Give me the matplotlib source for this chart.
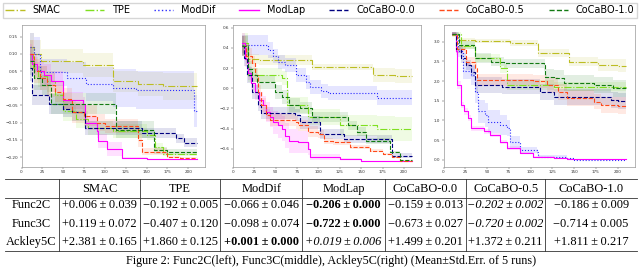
import numpy as np
import matplotlib
matplotlib.use("Agg")
import matplotlib.pyplot as plt
from matplotlib.lines import Line2D

W, H = 640, 268

# ---------------- data ----------------
methods = ["SMAC", "TPE", "ModDif", "ModLap", "CoCaBO-0.0", "CoCaBO-0.5", "CoCaBO-1.0"]
colors = ["#bcbd22", "#7fdf1f", "#2b2bff", "#ff00ff", "#000080", "#ff4a1a", "#127a12"]
styles = ["-.", "-.", ":", "-", "--", "--", "--"]
x_end = 210

# each step series: (iteration, mean, std.err)
f2_smac = [(10, 0.12, 0.04), (15, 0.10, 0.04), (23, 0.079, 0.035), (74, 0.068, 0.035), (110, 0.02, 0.03), (140, 0.012, 0.035), (170, 0.006, 0.039)]
f2_tpe = [(10, 0.10, 0.04), (14, 0.06, 0.03), (20, 0.035, 0.03), (30, 0.02, 0.03), (40, -0.02, 0.03), (50, -0.065, 0.03), (65, -0.09, 0.025), (80, -0.115, 0.02), (110, -0.125, 0.02), (150, -0.135, 0.015), (160, -0.17, 0.01), (170, -0.19, 0.006), (185, -0.192, 0.005)]
f2_moddif = [(10, 0.12, 0.04), (15, 0.10, 0.05), (22, 0.046, 0.04), (55, 0.03, 0.045), (77, 0.012, 0.05), (110, 0.0, 0.055), (137, -0.005, 0.055), (207, -0.066, 0.046)]
f2_modlap = [(10, 0.10, 0.03), (13, 0.07, 0.03), (19, 0.05, 0.025), (27, 0.04, 0.03), (35, 0.02, 0.03), (50, -0.035, 0.025), (74, -0.045, 0.02), (76, -0.10, 0.02), (90, -0.124, 0.02), (92, -0.153, 0.02), (102, -0.177, 0.02), (120, -0.203, 0.003), (150, -0.206, 0.0)]
f2_c00 = [(10, 0.06, 0.04), (13, -0.02, 0.03), (33, -0.046, 0.03), (50, -0.06, 0.025), (60, -0.07, 0.025), (76, -0.116, 0.02), (145, -0.13, 0.015), (185, -0.145, 0.013), (195, -0.159, 0.013)]
f2_c05 = [(10, 0.10, 0.04), (15, 0.05, 0.035), (22, 0.03, 0.035), (30, 0.01, 0.035), (40, -0.01, 0.03), (50, -0.03, 0.03), (60, -0.07, 0.03), (75, -0.08, 0.03), (90, -0.10, 0.025), (100, -0.11, 0.02), (140, -0.15, 0.02), (145, -0.185, 0.01), (175, -0.20, 0.003), (190, -0.202, 0.002)]
f2_c10 = [(10, 0.08, 0.04), (15, 0.03, 0.035), (25, 0.01, 0.03), (35, -0.045, 0.03), (113, -0.12, 0.025), (159, -0.18, 0.01), (175, -0.186, 0.009)]

f3_smac = [(10, 0.43, 0.1), (18, 0.29, 0.05), (30, 0.28, 0.05), (92, 0.21, 0.03), (164, 0.13, 0.07), (190, 0.119, 0.072)]
f3_tpe = [(10, 0.45, 0.1), (18, 0.13, 0.07), (57, 0.10, 0.07), (63, -0.17, 0.08), (88, -0.29, 0.08), (125, -0.37, 0.1), (168, -0.40, 0.12), (190, -0.407, 0.12)]
f3_moddif = [(10, 0.43, 0.1), (41, 0.38, 0.08), (47, 0.32, 0.07), (53, 0.26, 0.07), (61, 0.23, 0.07), (74, 0.13, 0.07), (86, 0.06, 0.07), (90, 0.01, 0.07), (103, -0.03, 0.07), (111, -0.05, 0.07), (168, -0.096, 0.074)]
f3_modlap = [(10, 0.45, 0.1), (14, 0.29, 0.08), (18, 0.15, 0.07), (21, 0.05, 0.07), (26, -0.04, 0.08), (31, -0.12, 0.08), (35, -0.17, 0.09), (39, -0.24, 0.1), (43, -0.29, 0.1), (47, -0.34, 0.11), (53, -0.37, 0.12), (57, -0.40, 0.12), (61, -0.47, 0.12), (65, -0.52, 0.12), (76, -0.53, 0.11), (88, -0.60, 0.06), (90, -0.68, 0.03), (125, -0.705, 0.01), (150, -0.722, 0.0)]
f3_c00 = [(10, 0.42, 0.1), (13, 0.30, 0.08), (16, 0.13, 0.08), (22, -0.04, 0.07), (29, -0.17, 0.06), (33, -0.25, 0.06), (72, -0.27, 0.06), (78, -0.34, 0.06), (102, -0.45, 0.05), (130, -0.50, 0.04), (186, -0.67, 0.027)]
f3_c05 = [(10, 0.42, 0.1), (15, 0.32, 0.08), (22, 0.25, 0.07), (26, 0.13, 0.07), (29, -0.04, 0.07), (33, -0.17, 0.07), (39, -0.27, 0.06), (43, -0.32, 0.06), (74, -0.34, 0.06), (76, -0.37, 0.05), (88, -0.43, 0.05), (100, -0.45, 0.04), (107, -0.52, 0.03), (117, -0.535, 0.03), (137, -0.585, 0.02), (160, -0.62, 0.015), (176, -0.65, 0.01), (186, -0.68, 0.008), (195, -0.72, 0.002)]
f3_c10 = [(10, 0.42, 0.1), (18, 0.19, 0.08), (22, 0.13, 0.07), (28, 0.06, 0.07), (49, -0.04, 0.07), (57, -0.09, 0.07), (65, -0.17, 0.07), (78, -0.20, 0.06), (92, -0.29, 0.05), (135, -0.37, 0.04), (145, -0.43, 0.04), (156, -0.52, 0.03), (184, -0.63, 0.01), (195, -0.714, 0.005)]

a5_smac = [(10, 3.17, 0.05), (18, 3.04, 0.05), (36, 3.02, 0.05), (76, 2.96, 0.07), (109, 2.70, 0.1), (144, 2.49, 0.12), (177, 2.41, 0.15), (200, 2.381, 0.165)]
a5_tpe = [(10, 3.2, 0.05), (20, 2.9, 0.1), (36, 2.58, 0.1), (65, 2.32, 0.12), (73, 1.9, 0.12), (127, 1.86, 0.125)]
a5_moddif = [(10, 3.2, 0.05), (17, 2.75, 0.15), (22, 2.25, 0.2), (32, 2.15, 0.25), (36, 1.73, 0.3), (40, 1.23, 0.3), (48, 1.14, 0.3), (51, 0.97, 0.3), (65, 0.89, 0.25), (73, 0.80, 0.2), (76, 0.46, 0.15), (88, 0.25, 0.08), (107, 0.21, 0.06), (109, 0.085, 0.04), (142, 0.04, 0.02), (150, 0.001, 0.0)]
a5_modlap = [(10, 3.2, 0.05), (14, 2.75, 0.08), (16, 1.9, 0.1), (20, 1.4, 0.08), (24, 1.23, 0.08), (28, 1.06, 0.08), (32, 0.80, 0.06), (46, 0.72, 0.06), (53, 0.63, 0.06), (65, 0.46, 0.05), (73, 0.30, 0.04), (88, 0.17, 0.03), (103, 0.085, 0.02), (127, 0.04, 0.01), (142, 0.019, 0.006)]
a5_c00 = [(10, 3.2, 0.05), (14, 2.8, 0.1), (20, 2.58, 0.12), (26, 2.41, 0.12), (32, 2.24, 0.15), (36, 1.9, 0.2), (67, 1.86, 0.2), (111, 1.73, 0.2), (127, 1.60, 0.2), (192, 1.52, 0.2), (200, 1.499, 0.201)]
a5_c05 = [(10, 3.2, 0.05), (15, 2.8, 0.1), (26, 2.49, 0.12), (36, 2.32, 0.15), (38, 2.03, 0.15), (103, 1.99, 0.17), (119, 1.9, 0.2), (132, 1.73, 0.2), (142, 1.56, 0.2), (173, 1.48, 0.2), (181, 1.39, 0.21), (200, 1.372, 0.211)]
a5_c10 = [(10, 3.2, 0.05), (18, 2.92, 0.1), (36, 2.58, 0.12), (55, 2.49, 0.12), (69, 2.45, 0.12), (115, 2.41, 0.15), (117, 2.11, 0.2), (127, 2.07, 0.2), (138, 1.94, 0.2), (173, 1.90, 0.2), (195, 1.811, 0.217)]

func2c_series = [f2_smac, f2_tpe, f2_moddif, f2_modlap, f2_c00, f2_c05, f2_c10]
func3c_series = [f3_smac, f3_tpe, f3_moddif, f3_modlap, f3_c00, f3_c05, f3_c10]
ackley5c_series = [a5_smac, a5_tpe, a5_moddif, a5_modlap, a5_c00, a5_c05, a5_c10]

# table values (mean, std.err)
problems = ["Func2C", "Func3C", "Ackley5C"]
func2c_mean = [0.006, -0.192, -0.066, -0.206, -0.159, -0.202, -0.186]
func2c_err = [0.039, 0.005, 0.046, 0.000, 0.013, 0.002, 0.009]
func3c_mean = [0.119, -0.407, -0.098, -0.722, -0.673, -0.720, -0.714]
func3c_err = [0.072, 0.120, 0.074, 0.000, 0.027, 0.002, 0.005]
ackley5c_mean = [2.381, 1.860, 0.001, 0.019, 1.499, 1.372, 1.811]
ackley5c_err = [0.165, 0.125, 0.000, 0.006, 0.201, 0.211, 0.217]

caption = "Figure 2: Func2C(left), Func3C(middle), Ackley5C(right) (Mean\u00b1Std.Err. of 5 runs)"

# ---------------- figure ----------------
fig = plt.figure(figsize=(W / 100, H / 100), dpi=100)


def fx(px):
    return px / W


def fy(py):
    return 1 - py / H


panels = [
    (func2c_series, (21.5, 205), (-0.229, 0.184), np.arange(-0.20, 0.151, 0.05), "{:.2f}"),
    (func3c_series, (233, 421), (-0.782, 0.627), np.arange(-0.6, 0.61, 0.2), "{:.1f}"),
    (ackley5c_series, (443.5, 635), (-0.18, 3.42), np.arange(0.0, 3.01, 0.5), "{:.1f}"),
]
top_px, bot_px = 25, 167

for series, (l, r), ylim, yt, fmt in panels:
    ax = fig.add_axes([fx(l), fy(bot_px), fx(r) - fx(l), (bot_px - top_px) / H])
    for s, c, ls in zip(series, colors, styles):
        xs = np.array([p[0] for p in s] + [x_end], float)
        ms = np.array([p[1] for p in s] + [s[-1][1]], float)
        es = np.array([p[2] for p in s] + [s[-1][2]], float)
        ax.fill_between(xs, ms - es, ms + es, step="post", color=c, alpha=0.12, lw=0)
        ax.plot(xs, ms, drawstyle="steps-post", color=c, ls=ls, lw=0.8)
    ax.set_xlim(0, 220)
    ax.set_ylim(*ylim)
    ax.set_xticks(np.arange(0, 201, 25))
    ax.set_yticks(yt)
    ax.set_yticklabels([fmt.format(v).replace("-", "\u2212") for v in yt])
    ax.tick_params(labelsize=3, length=1.5, width=0.3, pad=1, colors="#333333")
    for sp in ax.spines.values():
        sp.set_linewidth(0.5)
        sp.set_color("#999999")

# legend
handles = [Line2D([], [], color=c, ls=ls, lw=1.0) for c, ls in zip(colors, styles)]
fig.legend(handles, methods, loc="lower left", ncol=7, mode="expand",
           bbox_to_anchor=(fx(3), fy(17.5), fx(637) - fx(3), 16.5 / H),
           fontsize=7, frameon=True, borderpad=0.25, handlelength=2.0,
           handletextpad=0.8, fancybox=False, edgecolor="#cccccc",
           borderaxespad=0)

# table
serif = ["Liberation Serif", "DejaVu Serif"]
col_edges = [5, 59.3, 140, 220.3, 302.3, 384.7, 466, 545.3, 637]
rule_y = [179.3, 197.7, 251]
row_y = [205.3, 223.7, 242]
hdr_y = 188.7
fs = 8.9
for yy in rule_y:
    fig.add_artist(Line2D([fx(col_edges[0]), fx(col_edges[-1])], [fy(yy), fy(yy)],
                          color="#333333", lw=0.6))
for xx in col_edges[1:-1]:
    fig.add_artist(Line2D([fx(xx), fx(xx)], [fy(rule_y[0]), fy(rule_y[-1])],
                          color="#333333", lw=0.6))
centers = [(col_edges[i] + col_edges[i + 1]) / 2 for i in range(len(col_edges) - 1)]
centers[0] = 31
for i, m in enumerate(methods):
    fig.text(fx(centers[i + 1]), fy(hdr_y), m, ha="center", va="center", fontsize=fs, family=serif)

all_means = [func2c_mean, func3c_mean, ackley5c_mean]
all_errs = [func2c_err, func3c_err, ackley5c_err]
for r, (name, means, errs) in enumerate(zip(problems, all_means, all_errs)):
    fig.text(fx(centers[0]), fy(row_y[r]), name, ha="center", va="center", fontsize=fs, family=serif)
    order = np.argsort(means)
    for j, (m, e) in enumerate(zip(means, errs)):
        sign = "+" if m >= 0 else "\u2212"
        txt = f"{sign}{abs(m):.3f}\u2009\u00b1\u2009{e:.3f}"
        weight = "bold" if j == order[0] else "normal"
        style = "italic" if j == order[1] else "normal"
        fig.text(fx(centers[j + 1]), fy(row_y[r]), txt, ha="center", va="center",
                 fontsize=fs, family=serif, fontweight=weight, fontstyle=style)

fig.text(fx(331), fy(261), caption, ha="center", va="center", fontsize=8.7, family=serif)

fig.savefig("out.png", dpi=100)
